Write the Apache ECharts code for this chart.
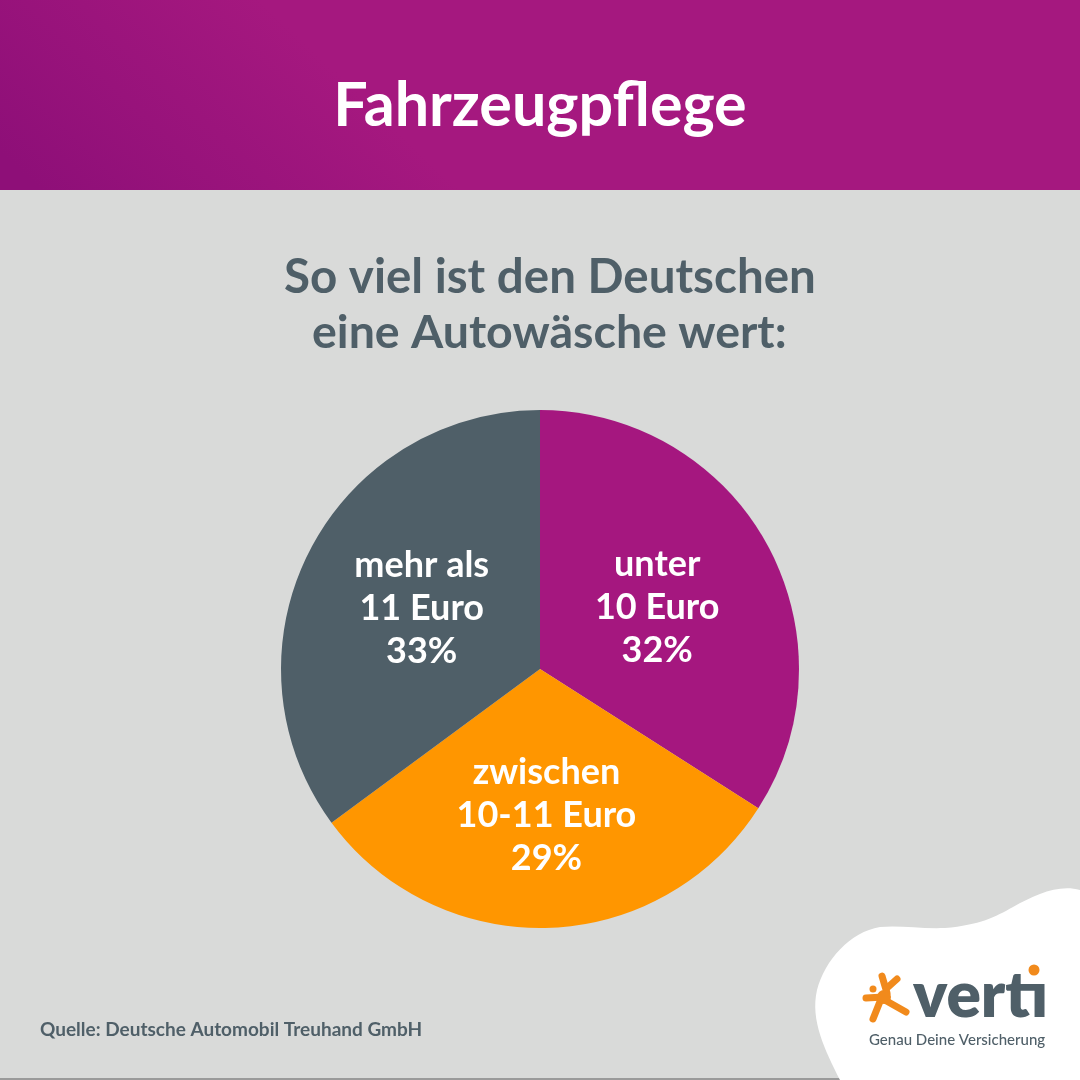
<!DOCTYPE html>
<html>
<head>
<meta charset="utf-8">
<style>html,body{margin:0;padding:0;background:#d9dad9}#main{width:1080px;height:1080px}</style>
<script src="https://cdn.jsdelivr.net/npm/echarts@6/dist/echarts.min.js"></script>
</head>
<body>
<div id="main"></div>
<script>
const categories = ['unter\n10 Euro', 'zwischen\n10-11 Euro', 'mehr als\n11 Euro'];
const shares = [32, 29, 33];
const colors = ['#a5177f', '#ff9600', '#4f5f68'];
const labelOffsets = [[1, 2], [2, 14], [0, -1]];
const subtitleLines = ['So viel ist den Deutschen', 'eine Autowäsche wert:'];
const subtitleLeft = [284, 312];
const slate = '#4f5f68';
const font = 'Lato';

// logo arms
const arms = [
  [[882, 976], [887, 993]],
  [[897, 979], [887, 988]],
  [[866, 998], [884, 997]],
  [[906, 1012], [883, 999]],
  [[873, 1019], [881, 999]]
];

// white corner shape
echarts.graphic.registerShape('cornerBlob', echarts.graphic.extendPath(
  'M1080 890 C1058 884 1035 895 1013 907 C995 917 980 925 945 928 C920 929 900 925 880 927 C850 932 825 960 817 990 C810 1020 825 1050 840 1080 L1080 1080 Z'
));

const chart = echarts.init(document.getElementById('main'));
chart.setOption({
  animation: false,
  backgroundColor: '#d9dad9',
  title: [
    { text: 'Fahrzeugpflege', left: 'center', top: 76, padding: 0, textStyle: { color: '#fff', fontFamily: font, fontWeight: 700, fontSize: 61 } },
    ...subtitleLines.map((t, i) => ({ text: t, left: subtitleLeft[i], top: 254 + i * 55, padding: 0,
      textStyle: { color: slate, fontFamily: font, fontWeight: 700, fontSize: i ? 46.5 : 47.5 } })),
    { text: 'Quelle: Deutsche Automobil Treuhand GmbH', left: 40, top: 1020, padding: 0, textStyle: { color: slate, fontFamily: font, fontWeight: 700, fontSize: 19 } }
  ],
  graphic: [
    { type: 'rect', z: -1, shape: { x: 0, y: 0, width: 1080, height: 190 },
      style: { fill: new echarts.graphic.LinearGradient(40, 190, 240, -20, [{ offset: 0, color: '#8e0f78' }, { offset: 1, color: '#a5187f' }], true) } },
    { type: 'rect', z: -1, shape: { x: 0, y: 1078, width: 840, height: 2 }, style: { fill: '#9a9a9a' } },
    { type: 'cornerBlob', z: 1, style: { fill: '#ffffff' } },
    ...arms.map(a => ({ type: 'polyline', z: 2, shape: { points: a }, style: { stroke: '#f18a1c', lineWidth: 7, lineCap: 'round', fill: null } })),
    { type: 'circle', z: 2, shape: { cx: 884, cy: 997, r: 7 }, style: { fill: '#f18a1c' } },
    { type: 'circle', z: 2, shape: { cx: 873, cy: 989, r: 3.5 }, style: { fill: '#f18a1c' } },
    { type: 'text', z: 2, x: 913, y: 964, style: { text: 'vertı', fill: slate, font: '800 64px Lato' } },
    { type: 'circle', z: 2, shape: { cx: 1034, cy: 970, r: 5.5 }, style: { fill: '#f18a1c' } },
    { type: 'text', z: 2, x: 869, y: 1033, style: { text: 'Genau Deine Versicherung', fill: slate, font: '500 15px Lato' } }
  ],
  series: [{
    type: 'pie',
    center: [540, 669],
    radius: [0, 259],
    startAngle: 90,
    silent: true,
    label: { position: 'inside', color: '#fff', fontFamily: font, fontWeight: 700, fontSize: 36, lineHeight: 43, formatter: '{b}\n{c}%' },
    labelLine: { show: false },
    data: categories.map((c, i) => ({
      name: c, value: shares[i],
      itemStyle: { color: colors[i] },
      label: { offset: labelOffsets[i] }
    }))
  }]
});
</script>
</body>
</html>
